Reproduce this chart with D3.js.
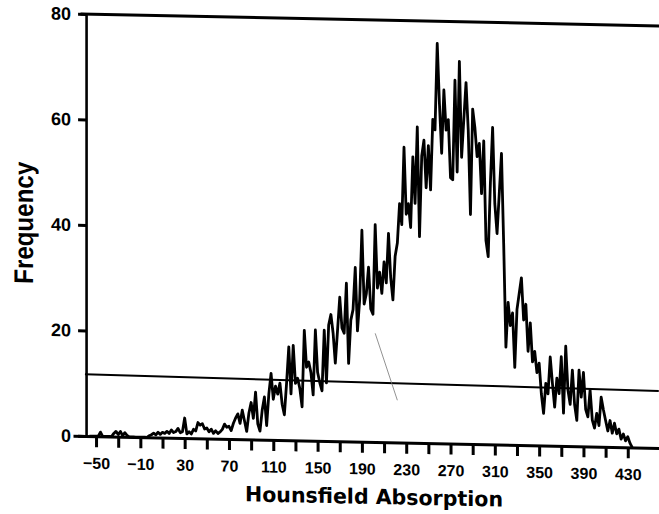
<!DOCTYPE html>
<html><head><meta charset="utf-8">
<script src="https://cdn.jsdelivr.net/npm/d3@7"></script>
<style>body{margin:0;background:#fff} svg{display:block}</style>
</head><body>
<svg id="c" width="659" height="514"></svg>
<script>
// Histogram bins: Hounsfield units, 2 HU wide, starting at -56
const huStart = -56, huStep = 2;
const freq = [
  0,0,0,0,0,0.8,0,0,0,0,0,0.6,1,0.4,1,0.2,0.8,0.3,0,
  0,0,0,0,0,0,0,0,
  0.3,0.5,0.8,0.5,1,0.6,1,0.8,1.2,0.8,1.5,1,1.2,1.8,1,1.2,
  3.8,0.8,1.2,0.8,1.7,1.4,3,2.5,2.8,1.8,2,1.3,1.8,1,1.5,1,
  1.3,1.8,2.8,2.2,2.4,1.6,3,4,4.8,3,5.5,3.5,1.5,5,7,4,
  9,3,1.6,5.6,8.1,2.7,8.7,12.6,7.7,10.2,8.7,10.8,6.8,4.8,10.8,17.7,
  8.8,18,10.8,11.8,9.8,6.4,20.9,13.9,14.9,12.9,8.7,21,13,11,9.5,21,
  11,22,24,20.5,14.8,21,27.3,21.5,20.5,30,14.8,23,25,33,21,27,
  40.1,26.1,28.1,33.1,25.2,24.2,41.2,29.2,32.2,28.2,34.2,30.2,39.6,31.2,27,35.3,
  37.8,45.3,41.3,56,43.3,45.3,40.8,54.2,45.4,59.9,39.1,54.4,57.4,48.4,56.4,48,
  61.4,59.4,75.8,64.4,55,67,59.4,61.4,50.4,50,68.9,51.5,72.5,54.3,61.5,68.5,
  59.5,43.5,63.5,60,54.5,57,47.5,57.5,38.6,35.6,49.6,60.1,45.6,40,47.6,55.2,
  38,18.5,27,22.6,25,14.7,25.7,28.7,31.7,23.7,26.7,17.8,23.2,15.8,17.8,13.8,
  15.6,9.8,6.1,11.8,9.8,16.8,11.8,7.3,12.8,9.9,16.9,6.2,18.9,10.6,7.9,14.4,
  7.9,4.9,14.4,9.3,14,7,5.6,10.7,5,3.5,6.3,4,9.4,7,5,3,
  5,2.6,4.5,2.5,3.4,1.5,2.5,1.2,2,0.8,0
];
const xTicks = [-50,-30,-10,10,30,50,70,90,110,130,150,170,190,210,230,250,270,290,310,330,350,370,390,410,430];
const xLabels = [-50,-10,30,70,110,150,190,230,270,310,350,390,430];
const yTicks = [0,20,40,60,80];
const refLine = [[-60, 11.7],[458, 10.8]];
const leader = [[202, 20.6],[222, 8]];
const xTitle = "Hounsfield Absorption";
const yTitle = "Frequency";

const data = freq.map((f, i) => ({hu: huStart + i*huStep, f}));

const svg = d3.select("#c");
const x = d3.scaleLinear().domain([-70.8, 458.2]).range([73, 659]);
const y = d3.scaleLinear().domain([0, 80]).range([436, 14]);

// slight scan tilt
const ox = 85, oy = 436, skew = 0.0207;
const g = svg.append("g")
  .attr("transform", `translate(${ox},${oy}) matrix(1,${skew},0,1,0,0) translate(${-ox},${-oy})`);

// top frame line at 80
g.append("line")
  .attr("x1", x(-64)).attr("x2", x(458.2))
  .attr("y1", y(80)).attr("y2", y(80))
  .attr("stroke", "#000").attr("stroke-width", 3);

// reference line
g.append("path")
  .datum(refLine)
  .attr("d", d3.line().x(d => x(d[0])).y(d => y(d[1])))
  .attr("fill", "none").attr("stroke", "#000").attr("stroke-width", 2);

// faint leader line
g.append("path")
  .datum(leader)
  .attr("d", d3.line().x(d => x(d[0])).y(d => y(d[1])))
  .attr("fill", "none").attr("stroke", "#777").attr("stroke-width", 0.8);

// x axis
const fmt = d3.format("d");
const xAxis = g.append("g").attr("transform", `translate(0,${y(0)})`)
  .call(d3.axisBottom(x).tickValues(xTicks).tickSize(11).tickSizeOuter(0)
    .tickFormat(d => xLabels.includes(d) ? fmt(d) : ""));
xAxis.select(".domain").attr("stroke", "#000").attr("stroke-width", 3);
xAxis.selectAll(".tick line").attr("stroke", "#000").attr("stroke-width", 3);
xAxis.selectAll(".tick text")
  .attr("y", 32.6).attr("dy", 0)
  .attr("fill", "#000")
  .style("font-family", "'Liberation Sans', Arial, sans-serif")
  .style("font-weight", "bold").style("font-size", "16px");

// y axis
const yAxis = g.append("g").attr("transform", `translate(${x(-59)},0)`)
  .call(d3.axisLeft(y).tickValues(yTicks).tickSize(8).tickPadding(7).tickSizeOuter(0));
yAxis.select(".domain").attr("stroke", "#000").attr("stroke-width", 2.6);
yAxis.selectAll(".tick line").attr("stroke", "#000").attr("stroke-width", 3);
yAxis.selectAll(".tick text")
  .attr("fill", "#000")
  .style("font-family", "'Liberation Sans', Arial, sans-serif")
  .style("font-weight", "bold").style("font-size", "18px");

// histogram trace
g.append("path")
  .datum(data)
  .attr("d", d3.line().x(d => x(d.hu)).y(d => y(d.f)))
  .attr("fill", "none").attr("stroke", "#000")
  .attr("stroke-width", 2.8).attr("stroke-linejoin", "round");

// titles
g.append("text")
  .attr("x", 374).attr("y", 498)
  .attr("text-anchor", "middle")
  .attr("textLength", 258).attr("lengthAdjust", "spacingAndGlyphs")
  .style("font-family", "'DejaVu Sans', sans-serif")
  .style("font-weight", "bold").style("font-size", "21px")
  .text(xTitle);

g.append("text")
  .attr("transform", "translate(33,224) rotate(-90)")
  .attr("text-anchor", "middle")
  .attr("textLength", 122).attr("lengthAdjust", "spacingAndGlyphs")
  .style("font-family", "'Liberation Sans', Arial, sans-serif")
  .style("font-weight", "bold").style("font-size", "27px")
  .text(yTitle);
</script>
</body></html>
